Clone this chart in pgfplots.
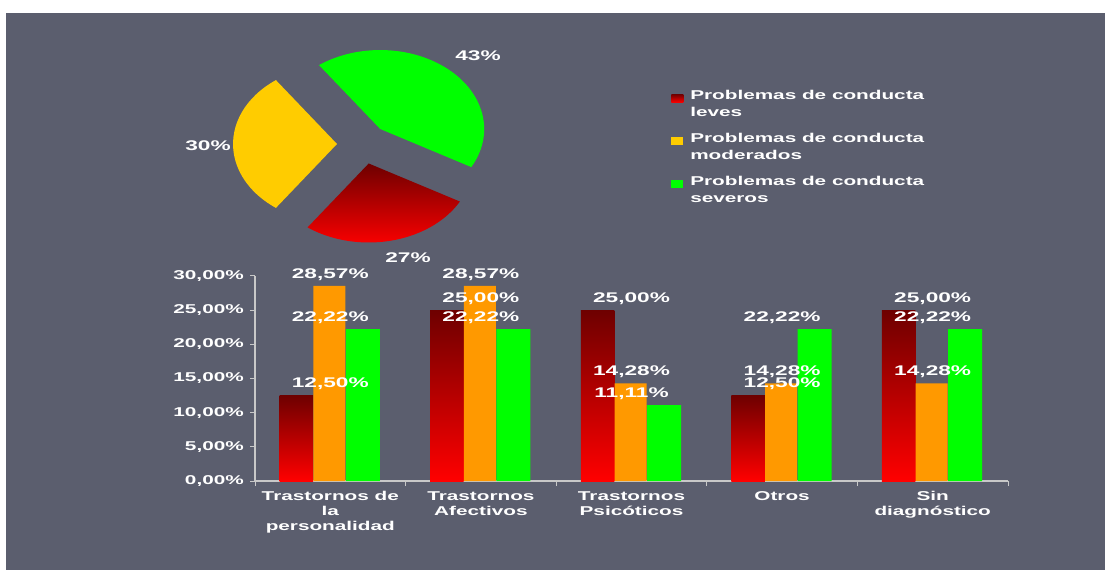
\documentclass[border=0pt]{standalone}
\usepackage{pgfplots}
\pgfplotsset{compat=1.18}
\usepackage{fontspec}
\setmainfont{Liberation Sans}[FakeStretch=1.62]
\definecolor{bg}{RGB}{91,94,110}
\definecolor{dred}{RGB}{110,0,0}
\definecolor{bred}{RGB}{255,0,0}
\definecolor{borange}{RGB}{255,153,0}
\definecolor{bgreen}{RGB}{0,255,0}
\definecolor{pyellow}{RGB}{255,204,0}
\definecolor{axgray}{RGB}{200,200,200}
\pgfplotsset{
  /pgf/number format/assume math mode=true,
  vallab/.style={nodes near coords={\pgfmathprintnumber[fixed,fixed zerofill,precision=2,use comma]{\pgfplotspointmeta}\%},
     every node near coord/.append style={font=\bfseries\fontsize{14}{16}\selectfont, text=white, yshift=2pt}},
  redbar/.style={ybar, bar width=33.5pt, bar shift=-34pt, draw=none, top color=dred, bottom color=bred, vallab},
}
\begin{document}
\begin{tikzpicture}[x=1pt,y=1pt]
\fill[white] (0,0) rectangle (1105,570);
\fill[bg] (6,0) rectangle (1105,557);

% ---------- bar chart ----------
\begin{axis}[
  at={(255pt,89pt)}, anchor=origin,
  x=150.6pt, y=6.8333pt,
  xmin=0, xmax=5, ymin=0, ymax=30,
  axis lines=left, axis line style={-, axgray, line width=1.2pt},
  tick align=outside, major tick length=5pt,
  tick style={axgray, line width=1pt},
  xtick={0,1,2,3,4,5}, xticklabels={},
  extra x ticks={0.5,1.5,2.5,3.5,4.5},
  extra x tick labels={{Trastornos de\\la\\personalidad},{Trastornos\\Afectivos},{Trastornos\\Psicóticos},{Otros},{Sin\\diagnóstico}},
  extra x tick style={major tick length=0pt, tick style={draw=none}},
  x tick label style={align=center, text=white, font=\bfseries\fontsize{12.8}{15}\selectfont, anchor=north, yshift=-7pt},
  ytick={0,5,10,15,20,25,30},
  yticklabels={{0,00\%},{5,00\%},{10,00\%},{15,00\%},{20,00\%},{25,00\%},{30,00\%}},
  y tick label style={text=white, font=\bfseries\fontsize{12.8}{15}\selectfont, xshift=-2.7pt},
  clip=false,
]
\addplot[redbar] coordinates {(0.5,12.5)};
\addplot[redbar] coordinates {(1.5,25)};
\addplot[redbar] coordinates {(2.5,25)};
\addplot[redbar] coordinates {(3.5,12.5)};
\addplot[redbar] coordinates {(4.5,25)};
\addplot[ybar, bar width=32pt, bar shift=-1pt, draw=none, fill=borange, vallab] coordinates {(0.5,28.57) (1.5,28.57) (2.5,14.28) (3.5,14.28) (4.5,14.28)};
\addplot[ybar, bar width=34pt, bar shift=32.5pt, draw=none, fill=bgreen, vallab] coordinates {(0.5,22.22) (1.5,22.22) (2.5,11.11) (3.5,22.22) (4.5,22.22)};
\end{axis}

% ---------- pie chart ----------
\begin{axis}[
  at={(363pt,426pt)}, anchor=origin,
  x=1pt, y=1pt,
  xmin=-130, xmax=600, ymin=-130, ymax=130,
  hide axis, clip=false,
  legend cell align=left,
  legend image code/.code={\path[#1] (0pt,1.5pt) rectangle (12pt,10pt);},
  legend style={at={(0.596,0.723)}, anchor=north west, draw=none, fill=none,
    text=white, font=\bfseries\fontsize{12.8}{17}\selectfont,
    cells={align=left}, row sep=11pt,
    /tikz/every odd column/.append style={column sep=5pt}},
]
\addplot[draw=none, top color=dred, bottom color=bred] coordinates {(5.7,-19.5) (-55.4,-83.4)} arc[start angle=234, end angle=331.2, x radius=104pt, y radius=79pt] -- cycle;
\addlegendentry{Problemas de conducta\\leves}
\addplot[draw=none, fill=pyellow] coordinates {(-26,0) (-87.1,63.9)} arc[start angle=126, end angle=234, x radius=104pt, y radius=79pt] -- cycle;
\addlegendentry{Problemas de conducta\\moderados}
\addplot[draw=none, fill=bgreen] coordinates {(17.2,15.0) (108.3,-23.1)} arc[start angle=-28.8, end angle=126, x radius=104pt, y radius=79pt] -- cycle;
\addlegendentry{Problemas de conducta\\severos}
\node[text=white, font=\bfseries\fontsize{14}{16}\selectfont] at (axis cs:115,88) {43\%};
\node[text=white, font=\bfseries\fontsize{14}{16}\selectfont] at (axis cs:-155,-2) {30\%};
\node[text=white, font=\bfseries\fontsize{14}{16}\selectfont] at (axis cs:45,-114) {27\%};
\end{axis}
\end{tikzpicture}
\end{document}
